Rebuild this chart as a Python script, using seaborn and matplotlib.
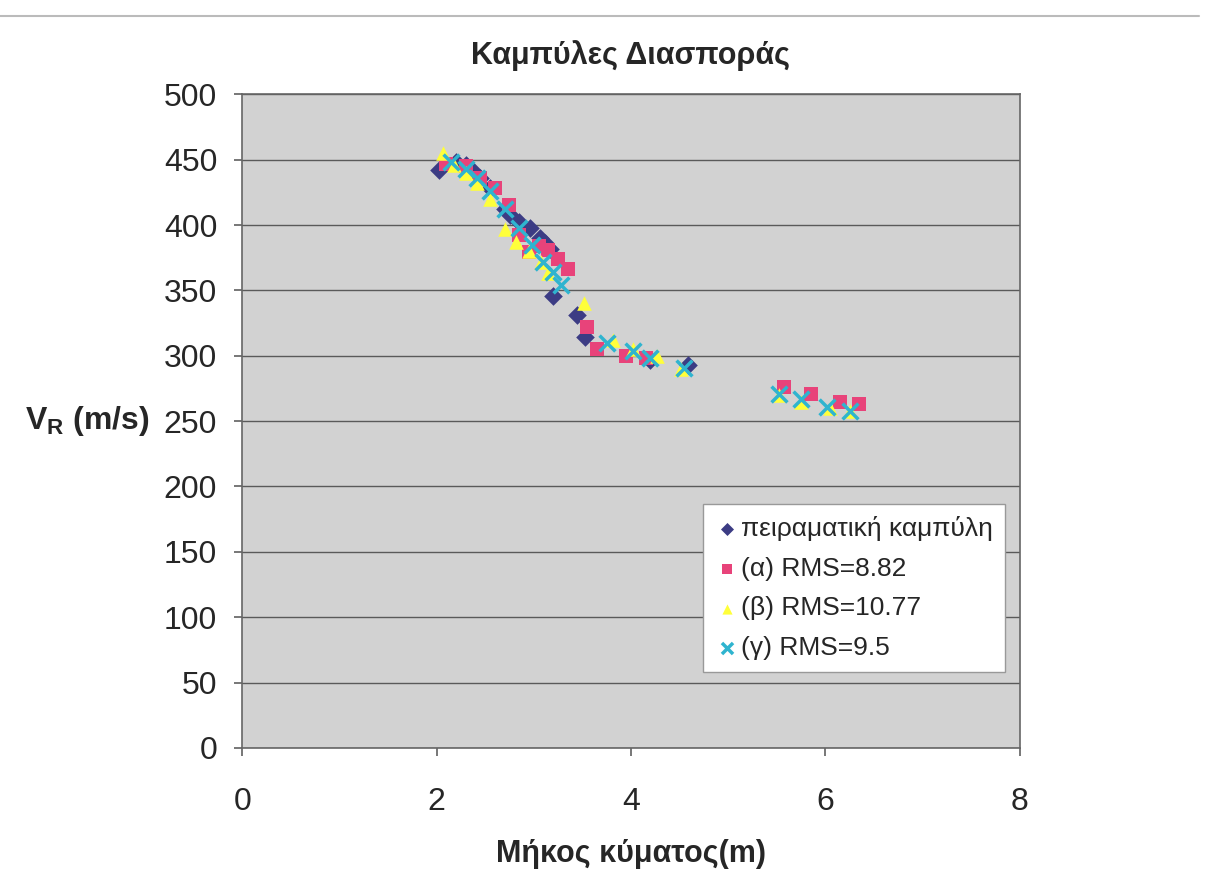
import matplotlib
matplotlib.use("Agg")
import matplotlib.pyplot as plt
from matplotlib.lines import Line2D
import seaborn as sns
import pandas as pd

# Experimental curve (diamonds)
exp_x = [2.02, 2.2, 2.3, 2.36, 2.45, 2.55, 2.7, 2.76, 2.85, 2.96, 3.06, 3.12, 3.17, 3.2, 3.45, 3.53, 4.2, 4.59]
exp_y = [442, 448, 446, 442, 436, 428, 412, 408, 402, 398, 390, 386, 382, 346, 331, 314, 297, 293]
# (α)
a_x = [2.1, 2.3, 2.45, 2.6, 2.75, 2.85, 2.95, 3.05, 3.15, 3.25, 3.35, 3.55, 3.65, 3.95, 4.15, 5.57, 5.85, 6.15, 6.35]
a_y = [447, 445, 436, 428, 415, 392, 379, 384, 381, 374, 366, 322, 305, 300, 298, 276, 271, 265, 263]
# (β)
b_x = [2.07, 2.18, 2.3, 2.42, 2.55, 2.7, 2.82, 2.95, 3.07, 3.15, 3.52, 3.82, 4.02, 4.27, 4.52, 5.52, 5.75, 6.05, 6.25]
b_y = [455, 446, 440, 432, 420, 397, 387, 380, 372, 363, 340, 312, 305, 300, 290, 270, 265, 260, 258]
# (γ)
g_x = [2.15, 2.3, 2.42, 2.55, 2.7, 2.85, 2.98, 3.1, 3.2, 3.28, 3.75, 4.02, 4.2, 4.55, 5.52, 5.75, 6.02, 6.25]
g_y = [448, 443, 436, 426, 412, 398, 385, 372, 364, 354, 310, 304, 298, 291, 271, 267, 261, 258]

labels = ["πειραματική καμπύλη", "(α) RMS=8.82", "(β) RMS=10.77", "(γ) RMS=9.5"]

sns.set_theme(style="white")
plt.rcParams['font.family'] = ['Liberation Sans', 'DejaVu Sans']

fig = plt.figure(figsize=(12.11, 8.81), dpi=100)
ax = fig.add_axes([0.2, 0.151, 0.642, 0.742])
ax.set_facecolor("#D2D2D2")

# scanned page edge line at top
fig.add_artist(Line2D([0, 0.99], [0.982, 0.982], transform=fig.transFigure,
                      color="#BBBBBB", linewidth=1.5))

series = [
    (exp_x, exp_y, labels[0], "D", "#3C3C84", 90, None),
    (a_x, a_y, labels[1], "s", "#E8437A", 95, None),
    (b_x, b_y, labels[2], "^", "#FFFF3A", 110, None),
    (g_x, g_y, labels[3], "x", "#2FB4CF", 130, 2.5),
]
for xs, ys, lab, m, c, s, lw in series:
    df = pd.DataFrame({"x": xs, "y": ys})
    kw = dict(linewidth=lw) if lw else dict(linewidth=0)
    sns.scatterplot(data=df, x="x", y="y", marker=m, color=c, s=s, ax=ax, label=lab, **kw)

ax.set_xlim(0, 8)
ax.set_ylim(0, 500)
ax.set_xticks(range(0, 9, 2))
ax.set_yticks(range(0, 501, 50))
ax.yaxis.grid(True, color="#5A5A5A", linewidth=1)
ax.xaxis.grid(False)
for sp in ax.spines.values():
    sp.set_color("#666666")
    sp.set_linewidth(1.2)
ax.tick_params(axis="both", labelsize=23, length=6, direction="out", color="#666666",
               bottom=True, left=True)
ax.tick_params(axis="y", pad=12)
ax.tick_params(axis="x", pad=22)
ax.set_xlabel("Μήκος κύματος(m)", fontsize=22, fontweight="bold", labelpad=16)
ax.set_ylabel("V$_\\mathregular{R}$ (m/s)", fontsize=23, fontweight="bold", rotation=0,
              labelpad=10, va="center", ha="right")
ax.set_title("Καμπύλες Διασποράς", fontsize=22, fontweight="bold", pad=22)

leg = ax.legend(loc="lower right", bbox_to_anchor=(0.981, 0.116), fontsize=19,
                frameon=True, fancybox=False, edgecolor="#999999", facecolor="white",
                framealpha=1, handletextpad=0.1, borderpad=0.45, labelspacing=0.6,
                markerscale=0.7, handlelength=0.9, borderaxespad=0)

fig.savefig("out.png", dpi=100, facecolor="white")
